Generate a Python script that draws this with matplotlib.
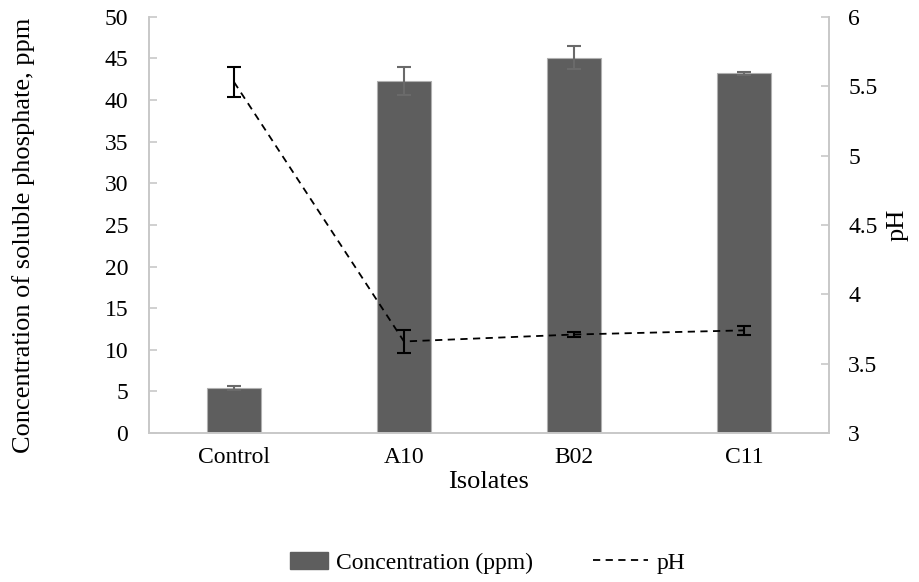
import numpy as np
import matplotlib.pyplot as plt
from matplotlib.lines import Line2D
from matplotlib.patches import Patch

plt.rcParams['font.family'] = ['Liberation Serif', 'DejaVu Serif']

isolates = ["Control", "A10", "B02", "C11"]
conc = [5.4, 42.3, 45.1, 43.2]
conc_err = [0.2, 1.7, 1.4, 0.2]
ph = [5.53, 3.66, 3.71, 3.74]
ph_err = [0.11, 0.08, 0.02, 0.03]

FS = 17       # tick and legend text
LFS = 19      # axis titles
AXIS_COL = '#c8c8c8'

fig = plt.figure(figsize=(9.2, 5.82), dpi=100)
ax = fig.add_axes([0.162, 0.256, 0.739, 0.715])
x = np.arange(len(isolates))

ax.bar(x, conc, width=0.32, color='#5e5e5e', edgecolor='#b0b0b0', linewidth=0.8,
       yerr=conc_err, error_kw=dict(ecolor='#6a6a6a', elinewidth=1.5, capsize=5, capthick=1.5),
       zorder=2)
ax.set_xlim(-0.5, 3.5)
ax.set_ylim(0, 50)
ax.set_yticks(range(0, 51, 5))
ax.set_xticks(x)
ax.set_xticklabels(isolates)
ax.tick_params(axis='y', direction='in', length=6, width=1.2, color=AXIS_COL, labelsize=FS, pad=15)
ax.tick_params(axis='x', length=0, labelsize=FS, pad=10)
for s in ['left', 'bottom', 'right']:
    ax.spines[s].set_color(AXIS_COL)
    ax.spines[s].set_linewidth(1.2)
ax.spines['top'].set_visible(False)
ax.set_xlabel("Isolates", fontsize=LFS, labelpad=2)
ax.set_ylabel("Concentration of soluble phosphate, ppm", fontsize=LFS)
ax.yaxis.set_label_coords(-0.168, 0.476)

ax2 = ax.twinx()
ax2.errorbar(x, ph, yerr=ph_err, color='black', linestyle=(0, (4, 3)), linewidth=1.3,
             ecolor='black', elinewidth=1.5, capsize=5, capthick=1.5, zorder=3)
ax2.set_ylim(3, 6)
ax2.set_yticks([3, 3.5, 4, 4.5, 5, 5.5, 6])
ax2.set_yticklabels(['3', '3.5', '4', '4.5', '5', '5.5', '6'])
ax2.tick_params(axis='y', direction='in', length=6, width=1.2, color=AXIS_COL, labelsize=FS, pad=14)
for s in ['left', 'bottom', 'right']:
    ax2.spines[s].set_color(AXIS_COL)
    ax2.spines[s].set_linewidth(1.2)
ax2.spines['top'].set_visible(False)
ax2.set_ylabel("pH", fontsize=LFS, labelpad=6)

# two legend entries, placed separately so the handles can differ in length
leg1 = fig.legend([Patch(facecolor='#5e5e5e', edgecolor='#5e5e5e')], ["Concentration (ppm)"],
                  loc='center left', bbox_to_anchor=(290 / 920, 0.033), frameon=False,
                  fontsize=FS, handlelength=1.6, handletextpad=0.35, borderpad=0,
                  borderaxespad=0)
leg2 = fig.legend([Line2D([0], [0], color='black', linestyle=(0, (4, 3)), linewidth=1.3)], ["pH"],
                  loc='center left', bbox_to_anchor=(593 / 920, 0.033), frameon=False,
                  fontsize=FS, handlelength=2.35, handletextpad=0.35, borderpad=0,
                  borderaxespad=0)

fig.savefig("out.png", dpi=100)
